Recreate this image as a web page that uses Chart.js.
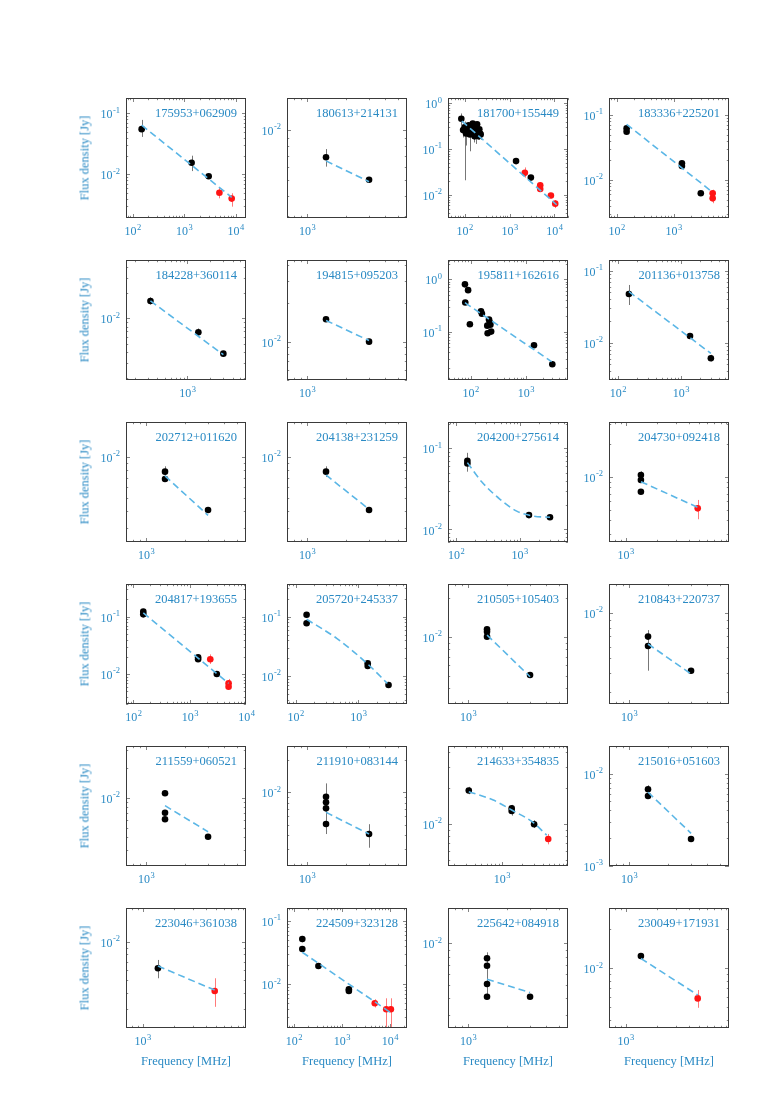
<!DOCTYPE html>
<html>
<head>
<meta charset="utf-8">
<script src="https://cdn.jsdelivr.net/npm/chart.js@4.4.1/dist/chart.umd.min.js"></script>
<style>
  body { margin: 0; background: #fff; }
  #page { position: relative; width: 779px; height: 1103px; background: #fff; overflow: hidden; }
  #page canvas { position: absolute; }
  .ylab, .xlab { position: absolute; font-family: "Liberation Serif", serif; font-size: 12.5px; color: #2a8ac4; white-space: nowrap; }
  .ylab { transform: translate(-50%, -50%) rotate(-90deg); }
  .xlab { transform: translate(-50%, -50%); }
</style>
</head>
<body>
<div id="page"></div>
<script>
// Source names, one panel each (row by row)
const sources = ['175953+062909', '180613+214131', '181700+155449', '183336+225201',
  '184228+360114', '194815+095203', '195811+162616', '201136+013758',
  '202712+011620', '204138+231259', '204200+275614', '204730+092418',
  '204817+193655', '205720+245337', '210505+105403', '210843+220737',
  '211559+060521', '211910+083144', '214633+354835', '215016+051603',
  '223046+361038', '224509+323128', '225642+084918', '230049+171931'];

// Axis limits as log10 (MHz / Jy)
const xLog = [[1.872, 4.202], [2.846, 3.769], [1.627, 4.306], [1.867, 3.972],
  [2.188, 3.777], [2.846, 3.769], [1.591, 3.761], [1.86, 3.765],
  [2.846, 3.769], [2.846, 3.769], [1.871, 3.761], [2.843, 3.983],
  [1.87, 3.994], [1.865, 3.77], [2.846, 3.769], [2.846, 3.769],
  [2.846, 3.769], [2.846, 3.769], [2.205, 3.978], [2.846, 3.769],
  [2.843, 3.983], [1.857, 4.357], [2.846, 3.769], [2.843, 3.983]];
const yLog = [[-2.716, -0.749], [-2.533, -1.806], [-2.5, 0.115], [-2.584, -0.738],
  [-2.726, -1.314], [-2.302, -1.357], [-1.925, 0.369], [-2.518, -0.851],
  [-2.623, -1.747], [-2.623, -1.747], [-2.156, -0.675], [-2.594, -1.503],
  [-2.523, -0.429], [-2.473, -0.449], [-2.518, -1.595], [-2.605, -1.805],
  [-2.683, -1.483], [-2.682, -1.571], [-2.348, -1.348], [-3.0, -1.7],
  [-2.674, -1.737], [-2.691, -0.795], [-2.618, -1.742], [-2.459, -1.536]];

// Measurements: [freq MHz, flux Jy, errLow, errHigh]
const blackPts = [
  [[150, 0.055, 0.041, 0.078], [1400, 0.0155, 0.0113, 0.0202], [3000, 0.0093]],
  [[1400, 0.00684, 0.006, 0.00767], [3000, 0.005]],
  [[84, 0.46, 0.33, 0.6], [92, 0.26, 0.18, 0.34], [99, 0.3, 0.021, 0.4], [107, 0.22, 0.12, 0.3],
   [115, 0.25], [122, 0.33], [130, 0.21, 0.09, 0.3], [143, 0.28], [151, 0.36],
   [158, 0.24, 0.14, 0.33], [166, 0.19], [174, 0.3], [181, 0.22, 0.13, 0.3], [189, 0.35],
   [197, 0.26], [204, 0.19, 0.16, 0.22], [212, 0.27], [220, 0.22], [227, 0.21, 0.16, 0.25],
   [1400, 0.055], [3000, 0.024]],
  [[150, 0.0625], [150, 0.0555], [1400, 0.0181], [1400, 0.0164], [3000, 0.00625]],
  [[325, 0.016, 0.0145, 0.0177], [1400, 0.00684, 0.0062, 0.0076], [3000, 0.00384]],
  [[1400, 0.015], [3000, 0.01]],
  [[79, 0.8], [90, 0.62], [80, 0.36], [97, 0.138], [154, 0.244], [160, 0.22], [200, 0.13],
   [203, 0.093], [215, 0.17], [222, 0.15], [228, 0.135], [235, 0.1], [1400, 0.0547], [3000, 0.0237]],
  [[150, 0.0475, 0.0334, 0.0634], [1400, 0.0124], [3000, 0.00608, 0.0055, 0.0068]],
  [[1400, 0.00777, 0.0073, 0.0085], [1400, 0.00687], [3000, 0.00408]],
  [[1400, 0.00777, 0.0071, 0.0085], [3000, 0.00408]],
  [[150, 0.0704, 0.0515, 0.088], [150, 0.065], [1400, 0.015], [3000, 0.0141]],
  [[1400, 0.01035, 0.0095, 0.0112], [1400, 0.00933], [1400, 0.0073]],
  [[150, 0.1225], [150, 0.11], [1400, 0.0196], [1400, 0.0181], [3000, 0.01]],
  [[150, 0.108], [150, 0.0774], [1400, 0.0164], [1400, 0.0147], [3000, 0.00705]],
  [[1400, 0.0114], [1400, 0.0109], [1400, 0.01], [3000, 0.00507]],
  [[1400, 0.00699, 0.00414, 0.00772], [1400, 0.00605], [3000, 0.00414]],
  [[1400, 0.01106], [1400, 0.00708], [1400, 0.00608], [3000, 0.00407]],
  [[1400, 0.0091, 0.00411, 0.0121], [1400, 0.0081], [1400, 0.00711], [1400, 0.00509], [3000, 0.00411, 0.00307, 0.00507]],
  [[325, 0.0191, 0.0178, 0.0205], [1400, 0.0136], [1400, 0.0129, 0.0118, 0.0145], [3000, 0.01, 0.0093, 0.0108]],
  [[1400, 0.00678, 0.0055, 0.0075], [1400, 0.00573], [3000, 0.00196]],
  [[1400, 0.0062, 0.00518, 0.0072]],
  [[150, 0.0519, 0.046, 0.058], [150, 0.036], [325, 0.0194, 0.0178, 0.021], [1400, 0.00832], [1400, 0.00783]],
  [[1400, 0.00778, 0.00408, 0.0086], [1400, 0.00687], [1400, 0.00505], [1400, 0.00408], [3000, 0.00408]],
  [[1400, 0.01244]]
];

const redPts = [
  [[4850, 0.005, 0.00404, 0.006], [8400, 0.004, 0.00295, 0.00489]],
  [],
  [[2200, 0.0305, 0.024, 0.04], [4850, 0.0163, 0.014, 0.019], [4850, 0.0135], [8400, 0.0098, 0.0085, 0.011], [10500, 0.0065, 0.0052, 0.0078]],
  [[4850, 0.00625, 0.0055, 0.0071], [4850, 0.00523, 0.0044, 0.0062]],
  [], [], [], [], [], [], [],
  [[4850, 0.00515, 0.0041, 0.00614]],
  [[2300, 0.0181, 0.015, 0.022], [4850, 0.00688, 0.006, 0.0082], [4850, 0.006]],
  [], [], [], [], [],
  [[4850, 0.00754, 0.0068, 0.0083]],
  [],
  [[4850, 0.00412, 0.0031, 0.00518]],
  [[4850, 0.005, 0.0043, 0.0058], [8400, 0.00403, 0.0015, 0.006], [10500, 0.00403, 0.0015, 0.006]],
  [],
  [[4850, 0.00587, 0.00497, 0.00681]]
];

// Fitted spectra
const fitLines = [
  [[150, 0.064], [8400, 0.0042]],
  [[1400, 0.0065], [3000, 0.00486]],
  [[86, 0.41], [11300, 0.00615]],
  [[150, 0.072], [4850, 0.00648]],
  [[325, 0.016], [3000, 0.00373]],
  [[1400, 0.0147], [3000, 0.0102]],
  [[79, 0.357], [2920, 0.0266]],
  [[150, 0.0513], [3000, 0.0071]],
  [[1400, 0.00723], [3000, 0.00373]],
  [[1400, 0.00734], [3000, 0.00413]],
  [[150, 0.0666], [252, 0.0387], [490, 0.0235], [897, 0.0168], [1638, 0.0146], [3000, 0.0141]],
  [[1400, 0.009], [4850, 0.00526]],
  [[150, 0.117], [4850, 0.00688]],
  [[150, 0.0903], [451, 0.0431], [1400, 0.0159], [2870, 0.0075]],
  [[1400, 0.0103], [3000, 0.00492]],
  [[1400, 0.00624], [3000, 0.00394]],
  [[1400, 0.00832], [3000, 0.00457]],
  [[1400, 0.00653], [3000, 0.00411]],
  [[325, 0.01867], [748, 0.0159], [1400, 0.01315], [3000, 0.0102], [4600, 0.0081]],
  [[1400, 0.0063], [3000, 0.00226]],
  [[1400, 0.00645], [4850, 0.00419]],
  [[150, 0.032], [10900, 0.00347]],
  [[1400, 0.00547], [3000, 0.00437]],
  [[1400, 0.0119], [4850, 0.00624]]
];

// Page layout
const colLeft = [126, 287, 448, 609];
const rowTop = [98, 260, 422, 584, 746, 908];
const BOX = 120;
const PAD = { left: 45, top: 10, right: 12, bottom: 28 };
const BLUE = '#2a8ac4';
const FONT = '"Liberation Serif", "Times New Roman", serif';

function toPts(arr) {
    return arr.map(p => ({ x: p[0], y: p[1], lo: p[2], hi: p[3] }));
}

// Frame, inward ticks, power-of-ten labels, title and error bars
const panelDecor = {
    id: 'panelDecor',
    beforeDatasetsDraw(chart) {
        const { ctx, chartArea: a, scales } = chart;
        ctx.save();
        ctx.beginPath();
        ctx.rect(a.left, a.top, a.right - a.left, a.bottom - a.top);
        ctx.clip();
        chart.data.datasets.forEach(ds => {
            if (!ds.errColor) return;
            ctx.strokeStyle = ds.errColor;
            ctx.lineWidth = 1;
            ds.data.forEach(p => {
                if (p.lo === undefined) return;
                const x = Math.round(scales.x.getPixelForValue(p.x)) + 0.5;
                ctx.beginPath();
                ctx.moveTo(x, scales.y.getPixelForValue(p.lo));
                ctx.lineTo(x, scales.y.getPixelForValue(p.hi));
                ctx.stroke();
            });
        });
        ctx.restore();
    },
    afterDraw(chart, args, opts) {
        const { ctx, chartArea: a, scales } = chart;
        const xs = scales.x, ys = scales.y;
        ctx.save();

        // ticks
        ctx.strokeStyle = '#666';
        ctx.lineWidth = 0.8;
        const drawTicks = (scale, horizontal) => {
            const lo = Math.log10(scale.min), hi = Math.log10(scale.max);
            for (let k = Math.floor(lo); k <= Math.ceil(hi); k++) {
                for (let m = 1; m <= 9; m++) {
                    const v = m * Math.pow(10, k);
                    const lv = Math.log10(v);
                    if (lv < lo - 1e-6 || lv > hi + 1e-6) continue;
                    const len = m === 1 ? 4 : 2.2;
                    const p = Math.round(scale.getPixelForValue(v)) + 0.5;
                    ctx.beginPath();
                    if (horizontal) {
                        ctx.moveTo(p, a.bottom); ctx.lineTo(p, a.bottom - len);
                        ctx.moveTo(p, a.top); ctx.lineTo(p, a.top + len);
                    } else {
                        ctx.moveTo(a.left, p); ctx.lineTo(a.left + len, p);
                        ctx.moveTo(a.right, p); ctx.lineTo(a.right - len, p);
                    }
                    ctx.stroke();
                }
            }
        };
        drawTicks(xs, true);
        drawTicks(ys, false);

        // frame
        ctx.strokeStyle = '#3a3a3a';
        ctx.lineWidth = 1;
        ctx.strokeRect(a.left + 0.5, a.top + 0.5, a.right - a.left - 1, a.bottom - a.top - 1);

        // decade labels
        ctx.fillStyle = BLUE;
        const big = '12px ' + FONT, small = '8.5px ' + FONT;
        const labelParts = k => {
            ctx.font = big;
            const w1 = ctx.measureText('10').width;
            ctx.font = small;
            const w2 = ctx.measureText(String(k)).width;
            return [w1, w2];
        };
        const xl = Math.log10(xs.min), xh = Math.log10(xs.max);
        for (let k = Math.ceil(xl - 0.01); k <= Math.floor(xh + 0.01); k++) {
            const p = xs.getPixelForValue(Math.pow(10, k));
            const [w1, w2] = labelParts(k);
            const x0 = p - (w1 + w2) / 2;
            ctx.textBaseline = 'middle';
            ctx.textAlign = 'left';
            ctx.font = big;
            ctx.fillText('10', x0, a.bottom + 14);
            ctx.font = small;
            ctx.fillText(String(k), x0 + w1 + 0.5, a.bottom + 9.5);
        }
        const yl = Math.log10(ys.min), yh = Math.log10(ys.max);
        for (let k = Math.ceil(yl - 0.01); k <= Math.floor(yh + 0.01); k++) {
            const p = ys.getPixelForValue(Math.pow(10, k));
            const [w1, w2] = labelParts(k);
            const x1 = a.left - 6;
            ctx.textBaseline = 'middle';
            ctx.textAlign = 'left';
            ctx.font = big;
            ctx.fillText('10', x1 - w2 - w1 - 0.5, p + 2);
            ctx.font = small;
            ctx.fillText(String(k), x1 - w2, p - 3);
        }

        // source name
        ctx.font = '12.5px ' + FONT;
        ctx.textAlign = 'right';
        ctx.textBaseline = 'middle';
        ctx.fillText(opts.title, a.right - 9, a.top + 16);
        ctx.restore();
    }
};

const page = document.getElementById('page');

sources.forEach((name, i) => {
    const col = i % 4, row = Math.floor(i / 4);
    const L = colLeft[col], T = rowTop[row];
    const canvas = document.createElement('canvas');
    canvas.width = BOX + PAD.left + PAD.right;
    canvas.height = BOX + PAD.top + PAD.bottom;
    canvas.style.left = (L - PAD.left) + 'px';
    canvas.style.top = (T - PAD.top) + 'px';
    page.appendChild(canvas);

    new Chart(canvas.getContext('2d'), {
        type: 'scatter',
        data: {
            datasets: [
                {
                    type: 'line',
                    data: toPts(fitLines[i]),
                    borderColor: '#5ab6e6',
                    borderWidth: 1.6,
                    borderDash: [7, 4],
                    pointRadius: 0,
                    fill: false,
                    cubicInterpolationMode: 'monotone',
                    order: 0
                },
                {
                    data: toPts(blackPts[i]),
                    backgroundColor: '#000',
                    borderWidth: 0,
                    pointRadius: 3.3,
                    errColor: '#777',
                    clip: false,
                    order: 1
                },
                {
                    data: toPts(redPts[i]),
                    backgroundColor: '#ff1414',
                    borderWidth: 0,
                    pointRadius: 3.3,
                    errColor: '#ff7a7a',
                    clip: false,
                    order: 1
                }
            ]
        },
        options: {
            responsive: false,
            animation: false,
            devicePixelRatio: 1,
            events: [],
            layout: { padding: PAD },
            scales: {
                x: { type: 'logarithmic', display: false, min: Math.pow(10, xLog[i][0]), max: Math.pow(10, xLog[i][1]) },
                y: { type: 'logarithmic', display: false, min: Math.pow(10, yLog[i][0]), max: Math.pow(10, yLog[i][1]) }
            },
            plugins: {
                legend: { display: false },
                tooltip: { enabled: false },
                panelDecor: { title: name }
            }
        },
        plugins: [panelDecor]
    });

    // axis titles on the outer panels
    if (col === 0) {
        const d = document.createElement('div');
        d.className = 'ylab';
        d.textContent = 'Flux density [Jy]';
        d.style.left = '85px';
        d.style.top = (T + BOX / 2) + 'px';
        page.appendChild(d);
    }
    if (row === rowTop.length - 1) {
        const d = document.createElement('div');
        d.className = 'xlab';
        d.textContent = 'Frequency [MHz]';
        d.style.left = (L + BOX / 2) + 'px';
        d.style.top = (T + BOX + 33) + 'px';
        page.appendChild(d);
    }
});
</script>
</body>
</html>
